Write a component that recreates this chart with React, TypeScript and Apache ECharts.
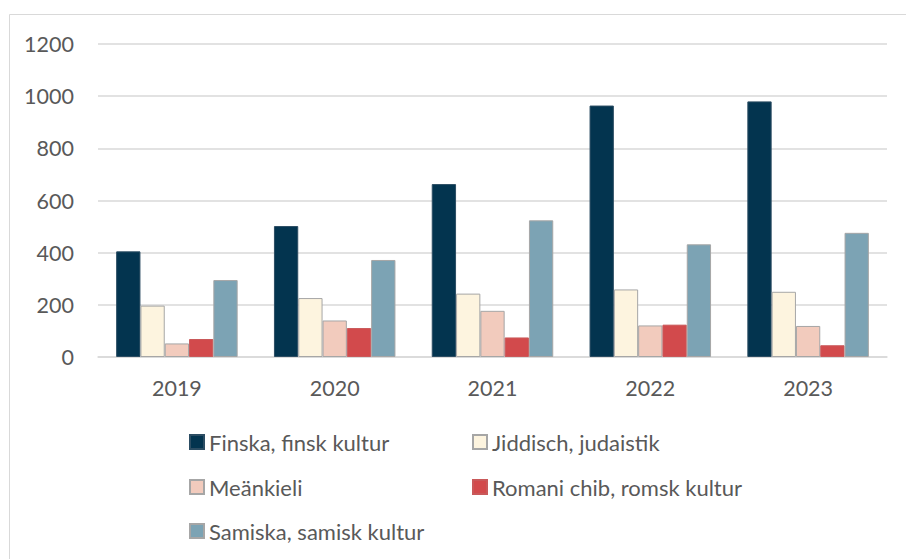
import React, { useEffect, useRef } from "react";
import * as echarts from "echarts";

const years = ["2019", "2020", "2021", "2022", "2023"];
const seriesNames = [
  "Finska, finsk kultur",
  "Jiddisch, judaistik",
  "Meänkieli",
  "Romani chib, romsk kultur",
  "Samiska, samisk kultur",
];
const finska = [405, 502, 663, 964, 980];
const jiddisch = [197, 226, 243, 259, 250];
const meankieli = [52, 140, 177, 121, 119];
const romani = [69, 111, 75, 124, 45];
const samiska = [295, 372, 524, 432, 476];
const yTicks = [0, 200, 400, 600, 800, 1000, 1200];

const colors = ["#03344f", "#fdf4df", "#f2cbbd", "#d24a4c", "#7ca3b4"];
const borders = ["#2c4d63", "#a6a6a6", "#a6a6a6", "#c9595a", "#a6a6a6"];
const values = [finska, jiddisch, meankieli, romani, samiska];

const FONT = "Lato";
const TEXT = "#595959";

export default function App() {
  const ref = useRef<HTMLDivElement>(null);
  useEffect(() => {
    if (!ref.current) return;
    const chart = echarts.init(ref.current, undefined, { renderer: "svg" });
    const legendPos = [
      { left: 189, top: 430 },
      { left: 472, top: 430 },
      { left: 189, top: 475 },
      { left: 472, top: 475 },
      { left: 189, top: 519 },
    ];
    chart.setOption({
      animation: false,
      backgroundColor: "#ffffff",
      graphic: [
        {
          type: "rect",
          shape: { x: 9.5, y: 14.5, width: 1000, height: 1000 },
          style: { fill: "none", stroke: "#d9d9d9", lineWidth: 1 },
          silent: true,
        },
      ],
      grid: { left: 98, right: 19, top: 44, bottom: 202, containLabel: false },
      legend: seriesNames.map((n, i) => ({
        data: [n],
        left: legendPos[i].left,
        top: legendPos[i].top,
        padding: 0,
        itemWidth: 14,
        itemHeight: 14,
        icon: "rect",
        selectedMode: false,
        textStyle: { fontFamily: FONT, fontSize: 22, color: TEXT, lineHeight: 24 },
      })),
      xAxis: {
        type: "category",
        data: years,
        axisLine: { show: true, lineStyle: { color: "#d9d9d9", width: 1.5 } },
        axisTick: { show: false },
        axisLabel: { fontFamily: FONT, fontSize: 21.5, color: TEXT, margin: 20 },
      },
      yAxis: {
        type: "value",
        min: yTicks[0],
        max: yTicks[yTicks.length - 1],
        interval: 200,
        axisLine: { show: false },
        axisTick: { show: false },
        splitLine: { lineStyle: { color: "#d9d9d9", width: 1.5 } },
        axisLabel: {
          fontFamily: FONT,
          fontSize: 21.5,
          color: TEXT,
          margin: 24,
          formatter: (v: number) => String(v),
        },
      },
      series: seriesNames.map((n, i) => ({
        name: n,
        type: "bar",
        data: values[i],
        barGap: "0%",
        barCategoryGap: "23%",
        itemStyle: { color: colors[i], borderColor: borders[i], borderWidth: 1 },
      })),
    });
    return () => chart.dispose();
  }, []);
  return (
    <div
      ref={ref}
      style={{ position: "fixed", left: 0, top: 0, width: 906, height: 559 }}
    />
  );
}
